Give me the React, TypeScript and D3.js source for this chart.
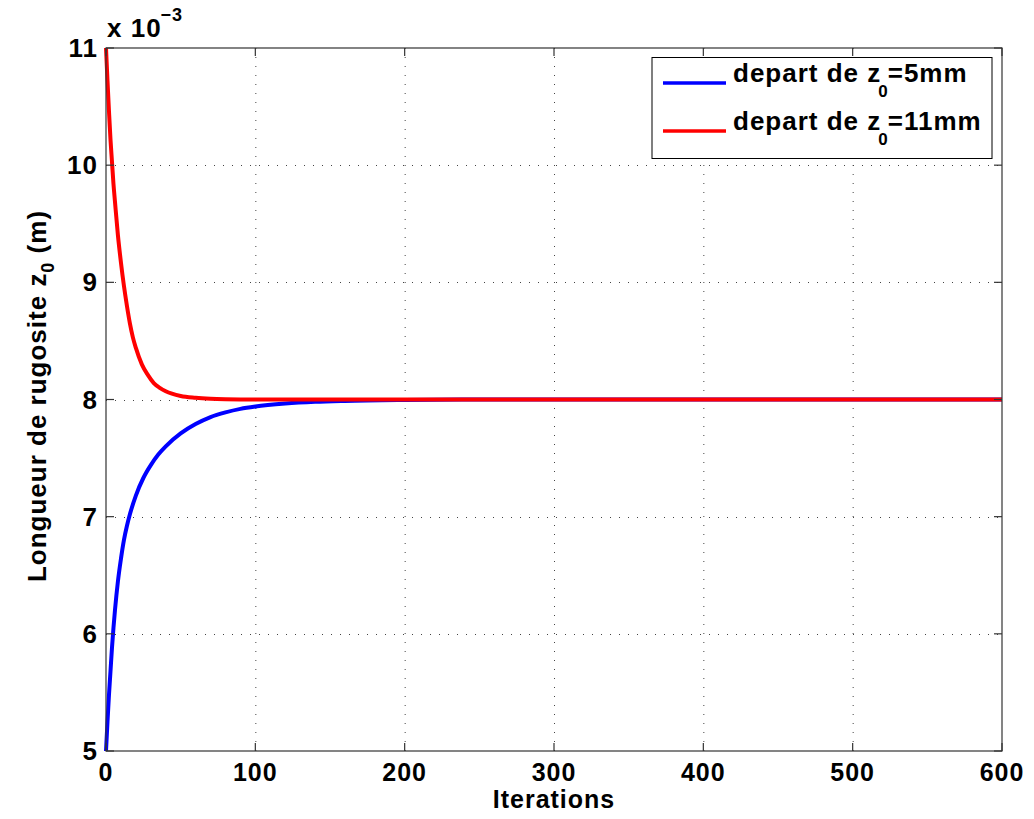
import React, { useEffect, useRef } from 'react';
import * as d3 from 'd3';

// values, z0 in units of 1e-3 m
const blueIterations = [0, 1, 2, 3, 4, 5, 6, 8, 10, 12, 14, 16, 20, 25, 30, 35, 40, 50, 60, 70, 80, 90, 100, 120, 140, 160, 200, 250, 300, 400, 500, 600];
const blueValues = [5.0, 5.25, 5.48, 5.68, 5.88, 6.05, 6.2, 6.45, 6.64, 6.8, 6.92, 7.02, 7.18, 7.33, 7.44, 7.53, 7.6, 7.71, 7.79, 7.85, 7.89, 7.92, 7.94, 7.965, 7.98, 7.988, 7.996, 8.0, 8.0, 8.0, 8.0, 8.0];

const redIterations = [0, 1, 2, 3, 4, 5, 6, 8, 10, 12, 14, 16, 18, 20, 24, 28, 32, 36, 40, 50, 60, 70, 80, 100, 200, 300, 400, 500, 600];
const redValues = [11.0, 10.72, 10.46, 10.22, 10.03, 9.84, 9.69, 9.4, 9.17, 8.97, 8.8, 8.65, 8.53, 8.44, 8.3, 8.21, 8.14, 8.1, 8.07, 8.03, 8.015, 8.007, 8.003, 8.0, 8.0, 8.0, 8.0, 8.0, 8.0];

const xTicks = [0, 100, 200, 300, 400, 500, 600];
const yTicks = [5, 6, 7, 8, 9, 10, 11];
const legendLabels = [{ pre: 'depart de z', sub: '0', post: '=5mm' }, { pre: 'depart de z', sub: '0', post: '=11mm' }];
const seriesColors = ['#0000ff', '#ff0000'];

const FONT = '"Liberation Sans", Arial, Helvetica, sans-serif';

function App() {
    const ref = useRef(null);

    useEffect(() => {
        const width = 1034;
        const height = 819;
        const left = 106, right = 1002, top = 48, bottom = 751;

        const svg = d3.select(ref.current);
        svg.selectAll('*').remove();
        svg.attr('width', width).attr('height', height);

        svg.append('rect').attr('width', width).attr('height', height).attr('fill', '#fff');

        const x = d3.scaleLinear().domain([0, 600]).range([left, right]);
        const y = d3.scaleLinear().domain([5, 11]).range([bottom, top]);

        // dotted grid
        const grid = svg.append('g')
            .attr('stroke', '#444')
            .attr('stroke-width', 1)
            .attr('stroke-dasharray', '1,8');
        grid.selectAll('.vg')
            .data(xTicks.slice(1, -1))
            .enter()
            .append('line')
            .attr('x1', d => x(d) + 0.5).attr('x2', d => x(d) + 0.5)
            .attr('y1', bottom).attr('y2', top);
        grid.selectAll('.hg')
            .data(yTicks.slice(1, -1))
            .enter()
            .append('line')
            .attr('y1', d => Math.round(y(d)) + 0.5).attr('y2', d => Math.round(y(d)) + 0.5)
            .attr('x1', left).attr('x2', right);

        // curves
        const line = d3.line()
            .x(d => x(d[0]))
            .y(d => y(d[1]))
            .curve(d3.curveMonotoneX);

        const blue = blueIterations.map((it, i) => [it, blueValues[i]]);
        const red = redIterations.map((it, i) => [it, redValues[i]]);

        [blue, red].forEach((data, i) => {
            svg.append('path')
                .attr('d', line(data))
                .attr('fill', 'none')
                .attr('stroke', seriesColors[i])
                .attr('stroke-width', 4)
                .attr('stroke-linejoin', 'round');
        });

        // axes box and ticks
        const axes = svg.append('g').attr('stroke', '#333').attr('stroke-width', 1.2);
        axes.append('rect')
            .attr('x', left).attr('y', top)
            .attr('width', right - left).attr('height', bottom - top)
            .attr('fill', 'none');
        const tl = 8;
        xTicks.forEach(t => {
            axes.append('line').attr('x1', x(t)).attr('x2', x(t)).attr('y1', bottom).attr('y2', bottom - tl);
            axes.append('line').attr('x1', x(t)).attr('x2', x(t)).attr('y1', top).attr('y2', top + tl);
        });
        yTicks.forEach(t => {
            axes.append('line').attr('y1', y(t)).attr('y2', y(t)).attr('x1', left).attr('x2', left + tl);
            axes.append('line').attr('y1', y(t)).attr('y2', y(t)).attr('x1', right).attr('x2', right - tl);
        });

        const txt = svg.append('g')
            .attr('font-family', FONT)
            .attr('font-weight', 'bold')
            .attr('fill', '#000')
            .style('letter-spacing', '1px');

        // tick labels
        txt.selectAll('.xl')
            .data(xTicks)
            .enter()
            .append('text')
            .attr('x', d => x(d))
            .attr('y', 781)
            .attr('text-anchor', 'middle')
            .attr('font-size', 25)
            .text(d => d);
        txt.selectAll('.yl')
            .data(yTicks)
            .enter()
            .append('text')
            .attr('x', 98)
            .attr('y', d => y(d) + 9)
            .attr('text-anchor', 'end')
            .attr('font-size', 26)
            .text(d => d);

        // exponent
        const ex = txt.append('text').attr('x', 107).attr('y', 37).attr('font-size', 26);
        ex.append('tspan').text('x 10');
        ex.append('tspan').attr('font-size', 18).attr('dy', -16).attr('dx', -1).text('\u22123');

        // axis labels
        txt.append('text')
            .attr('x', (left + right) / 2)
            .attr('y', 808)
            .attr('text-anchor', 'middle')
            .attr('font-size', 25)
            .text('Iterations');

        const yl = txt.append('text')
            .attr('transform', 'translate(46,396) rotate(-90)')
            .attr('text-anchor', 'middle')
            .attr('font-size', 26);
        yl.append('tspan').text('Longueur de rugosite z');
        yl.append('tspan').attr('font-size', 18).attr('dy', 8).text('0');
        yl.append('tspan').attr('dy', -8).text(' (m)');

        // legend
        const lg = svg.append('g');
        lg.append('rect')
            .attr('x', 652).attr('y', 57.5)
            .attr('width', 340).attr('height', 101)
            .attr('fill', '#fff')
            .attr('stroke', '#000')
            .attr('stroke-width', 1);
        const rowY = [83, 131];
        legendLabels.forEach((lab, i) => {
            lg.append('line')
                .attr('x1', 663).attr('x2', 726)
                .attr('y1', rowY[i]).attr('y2', rowY[i])
                .attr('stroke', seriesColors[i])
                .attr('stroke-width', 3.5);
            const t = lg.append('text')
                .attr('x', 733)
                .attr('y', rowY[i] - 1)
                .attr('font-family', FONT)
                .attr('font-weight', 'bold')
                .attr('font-size', 26)
                .style('letter-spacing', '1px');
            t.append('tspan').text(lab.pre);
            t.append('tspan').attr('font-size', 17).attr('dy', 15).attr('dx', -3).text(lab.sub);
            t.append('tspan').attr('dy', -15).attr('dx', -1).text(lab.post);
        });
    }, []);

    return (
        <div style={{ position: 'absolute', left: 0, top: 0 }}>
            <svg ref={ref}></svg>
        </div>
    );
}

export default App;
